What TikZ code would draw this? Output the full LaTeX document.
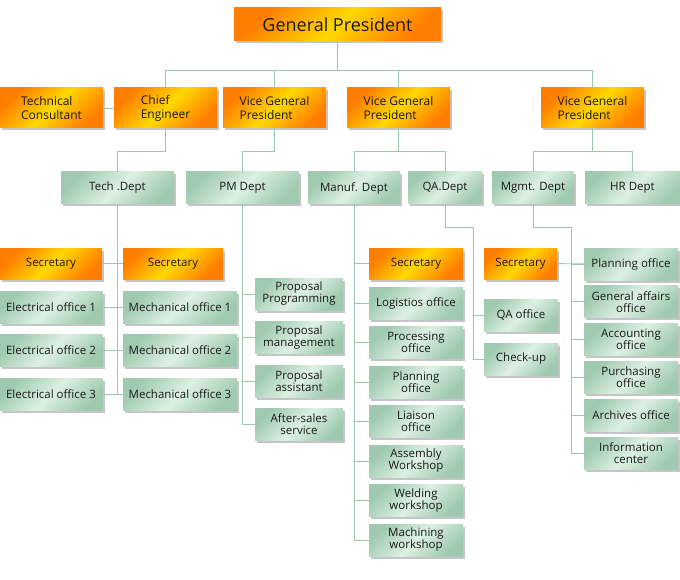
\documentclass[tikz,border=0pt]{standalone}
\usepackage{fontspec}
\setmainfont{Open Sans}
\usetikzlibrary{positioning, shadows}
\definecolor{orgdark}{HTML}{FF7E00}
\definecolor{orglight}{HTML}{FFD800}
\definecolor{grndark}{HTML}{A0CAB0}
\definecolor{grnlight}{HTML}{DDF0E4}
\definecolor{linkc}{HTML}{98C8AE}
\tikzstyle{boss} = [rectangle, minimum width=207pt, minimum height=33pt, inner sep=0pt, text=black!90, font=\fontsize{18}{20}\selectfont, left color=orgdark, right color=orgdark, middle color=orglight, shading angle=45, drop shadow={shadow xshift=2pt, shadow yshift=-2.5pt, fill=black!45, opacity=0.5}]
\tikzstyle{chief} = [rectangle, minimum width=103pt, minimum height=40pt, inner sep=0pt, align=left, text=black!90, font=\fontsize{12}{14}\selectfont, left color=orgdark, right color=orgdark, middle color=orglight, shading angle=45, drop shadow={shadow xshift=2pt, shadow yshift=-2.5pt, fill=black!45, opacity=0.5}]
\tikzstyle{secretary} = [chief, minimum height=31pt, align=center, font=\fontsize{11.5}{12}\selectfont]
\tikzstyle{dept} = [rectangle, minimum height=32pt, inner sep=0pt, align=center, text=black!90, font=\fontsize{11.5}{12}\selectfont, left color=grndark, right color=grndark, middle color=grnlight, shading angle=45, drop shadow={shadow xshift=2pt, shadow yshift=-2.5pt, fill=black!45, opacity=0.5}]
\tikzstyle{link} = [draw=linkc, line width=0.9pt]

\begin{document}
\begin{tikzpicture}[x=1pt, y=-1pt, node distance=43.5pt]
\useasboundingbox (0,0) rectangle (680,580);

\node (gp) [boss] at (337.5,24.5) {General President};
\node (ce) [chief] at (165.5,108) {Chief\\Engineer};
\node (tc) [chief, left of=ce, node distance=114pt] {Technical\\Consultant};
\node (vgp1) [chief, right of=ce, node distance=109pt] {Vice General\\President};
\node (vgp2) [chief] at (398.5,108) {Vice General\\President};
\node (vgp3) [chief] at (592.5,108) {Vice General\\President};

% Departments
\node (tech) [dept, minimum width=113pt] at (117.5,188) {Tech .Dept};
\node (pm) [dept, minimum width=113pt] at (242.5,188) {PM Dept};
\node (manuf) [dept, minimum width=92pt] at (354,188) {Manuf. Dept};
\node (qa) [dept, minimum width=74pt] at (445,188) {QA.Dept};
\node (mgmt) [dept, minimum width=82pt] at (533,188) {Mgmt. Dept};
\node (hr) [dept, minimum width=95pt] at (632.5,188) {HR Dept};

% Tech column
\node (sec1) [secretary, minimum width=102pt] at (51,263.5) {Secretary};
\node (sec2) [secretary, minimum width=100pt] at (173,263.5) {Secretary};
\node (elec1) [dept, minimum width=103pt, below of=sec1] {Electrical office 1};
\node (elec2) [dept, minimum width=103pt, below of=elec1] {Electrical office 2};
\node (elec3) [dept, minimum width=103pt, below of=elec2] {Electrical office 3};
\node (mech1) [dept, minimum width=114pt, below of=sec2, xshift=7pt] {Mechanical office 1};
\node (mech2) [dept, minimum width=114pt, below of=mech1] {Mechanical office 2};
\node (mech3) [dept, minimum width=114pt, below of=mech2] {Mechanical office 3};

% PM column
\node (prog) [dept, minimum width=88pt] at (299,294) {Proposal\\Programming};
\node (mang) [dept, minimum width=88pt, below of=prog] {Proposal\\management};
\node (asst) [dept, minimum width=88pt, below of=mang] {Proposal\\assistant};
\node (sales) [dept, minimum width=88pt, below of=asst] {After-sales\\service};

% Manuf column
\node (sec3) [secretary, minimum width=94pt] at (416,263.5) {Secretary};
\node (logi) [dept, minimum width=94pt, below of=sec3, node distance=39.5pt] {Logistios office};
\node (proc) [dept, minimum width=94pt, below of=logi, node distance=39.5pt] {Processing\\office};
\node (plan) [dept, minimum width=94pt, below of=proc, node distance=39.5pt] {Planning\\office};
\node (liai) [dept, minimum width=94pt, below of=plan, node distance=39.5pt] {Liaison\\office};
\node (assem) [dept, minimum width=94pt, below of=liai, node distance=39.5pt] {Assembly\\Workshop};
\node (weld) [dept, minimum width=94pt, below of=assem, node distance=39.5pt] {Welding\\workshop};
\node (mach) [dept, minimum width=94pt, below of=weld, node distance=39.5pt] {Machining\\workshop};

% QA column
\node (qaoff) [dept, minimum width=74pt] at (521,315) {QA office};
\node (check) [dept, minimum width=74pt, below of=qaoff, node distance=44pt] {Check-up};
\coordinate (qabus) at (473,227);

% Mgmt column
\node (sec4) [secretary, minimum width=73pt] at (520.5,263.5) {Secretary};
\node (mplan) [dept, minimum width=94pt] at (631,264) {Planning office};
\node (gaff) [dept, minimum width=94pt, below of=mplan, node distance=37.8pt] {General affairs\\office};
\node (acct) [dept, minimum width=94pt, below of=gaff, node distance=37.8pt] {Accounting\\office};
\node (purch) [dept, minimum width=94pt, below of=acct, node distance=37.8pt] {Purchasing\\office};
\node (arch) [dept, minimum width=94pt, below of=purch, node distance=37.8pt] {Archives office};
\node (info) [dept, minimum width=94pt, below of=arch, node distance=37.8pt] {Information\\center};
\coordinate (mgbus) at (571,227);

% Lines
\draw [link] (gp.south) -- ++(0,29) -| (ce.north);
\draw [link] (gp.south) -- ++(0,29) -| (vgp1.north);
\draw [link] (gp.south) -- ++(0,29) -| (vgp2.north);
\draw [link] (gp.south) -- ++(0,29) -| (vgp3.north);
\draw [link] (tc) -- (ce);
\draw [link] (ce.south) -- ++(0,23) -| (tech.north);
\draw [link] (vgp1.south) -- ++(0,23) -| (pm.north);
\draw [link] (vgp2.south) -- ++(0,23) -| (manuf.north);
\draw [link] (vgp2.south) -- ++(0,23) -| (qa.north);
\draw [link] (vgp3.south) -- ++(0,23) -| (mgmt.north);
\draw [link] (vgp3.south) -- ++(0,23) -| (hr.north);

\draw [link] (tech.south) -- (tech.south |- elec3.east);
\draw [link] (sec1) -- (sec2);
\draw [link] (elec1) -- (mech1);
\draw [link] (elec2) -- (mech2);
\draw [link] (elec3) -- (mech3);

\draw [link] (pm.south) |- (prog.west);
\draw [link] (pm.south) |- (mang.west);
\draw [link] (pm.south) |- (asst.west);
\draw [link] (pm.south) |- (sales.west);

\draw [link] (manuf.south) |- (sec3.west);
\draw [link] (manuf.south) |- (logi.west);
\draw [link] (manuf.south) |- (proc.west);
\draw [link] (manuf.south) |- (plan.west);
\draw [link] (manuf.south) |- (liai.west);
\draw [link] (manuf.south) |- (assem.west);
\draw [link] (manuf.south) |- (weld.west);
\draw [link] (manuf.south) |- (mach.west);

\draw [link] (qa.south) |- (qabus) |- (check.west);
\draw [link] (qabus) |- (qaoff.west);

\draw [link] (mgmt.south) |- (mgbus) |- (info.west);
\draw [link] (mgbus) |- (mplan.west);
\draw [link] (mgbus) |- (gaff.west);
\draw [link] (mgbus) |- (acct.west);
\draw [link] (mgbus) |- (purch.west);
\draw [link] (mgbus) |- (arch.west);
\draw [link] (sec4) -- (mplan);
\end{tikzpicture}
\end{document}
